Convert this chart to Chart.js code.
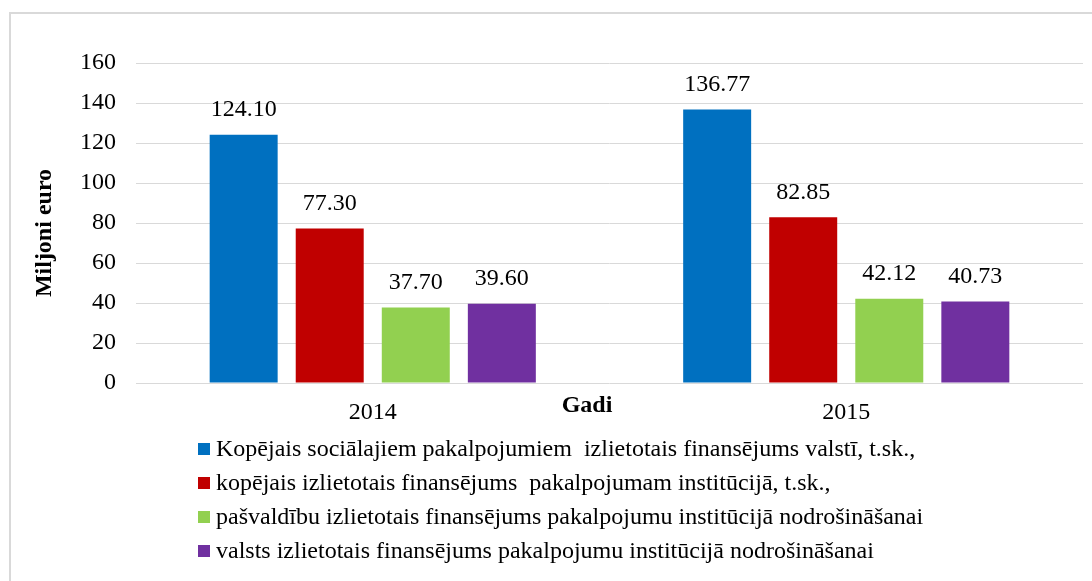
<!DOCTYPE html>
<html>
<head>
<meta charset="utf-8">
<script src="https://cdn.jsdelivr.net/npm/chart.js@4/dist/chart.umd.min.js"></script>
<style>
  body { margin: 0; background: #fff; }
  #wrap { width: 1092px; height: 581px; }
</style>
</head>
<body>
<div id="wrap"><canvas id="chart" width="1092" height="581"></canvas></div>
<script>
// dati
const years = ['2014', '2015'];
const seriesNames = [
  'Kopējais sociālajiem pakalpojumiem  izlietotais finansējums valstī, t.sk.,',
  'kopējais izlietotais finansējums  pakalpojumam institūcijā, t.sk.,',
  'pašvaldību izlietotais finansējums pakalpojumu institūcijā nodrošināšanai',
  'valsts izlietotais finansējums pakalpojumu institūcijā nodrošināšanai'
];
const totalCountry = [124.10, 136.77];
const totalInstitution = [77.30, 82.85];
const municipal = [37.70, 42.12];
const state = [39.60, 40.73];
const colors = ['#0070C0', '#C00000', '#92D050', '#7030A0'];
const yTicks = [0, 20, 40, 60, 80, 100, 120, 140, 160];

const FONT = "'Liberation Serif', 'Times New Roman', serif";

// frame, titles, value labels, legend
const decor = {
  id: 'decor',
  beforeDraw(chart) {
    const ctx = chart.ctx;
    ctx.save();
    ctx.strokeStyle = '#d9d9d9';
    ctx.lineWidth = 2;
    ctx.beginPath();
    ctx.moveTo(10, chart.height);
    ctx.lineTo(10, 13);
    ctx.lineTo(chart.width, 13);
    ctx.stroke();
    ctx.restore();
  },
  afterDraw(chart) {
    const ctx = chart.ctx;
    const area = chart.chartArea;
    ctx.save();
    ctx.fillStyle = '#000';

    // valori virs stabiņiem
    ctx.font = '24px ' + FONT;
    ctx.textAlign = 'center';
    ctx.textBaseline = 'middle';
    chart.data.datasets.forEach((ds, i) => {
      chart.getDatasetMeta(i).data.forEach((bar, j) => {
        ctx.fillText(ds.data[j].toFixed(2), bar.x, bar.y - 25);
      });
    });

    // ass nosaukumi
    ctx.font = 'bold 24px ' + FONT;
    ctx.fillText('Gadi', area.left + 451, area.bottom + 23);
    ctx.save();
    ctx.translate(45, area.top + 170);
    ctx.rotate(-Math.PI / 2);
    ctx.fillText('Miljoni euro', 0, 0);
    ctx.restore();

    // leģenda
    ctx.font = '24px ' + FONT;
    ctx.textAlign = 'left';
    const lx = area.left + 62;
    let ly = area.bottom + 66;
    chart.data.datasets.forEach(ds => {
      ctx.fillStyle = ds.backgroundColor;
      ctx.fillRect(lx, ly - 6, 12, 12);
      ctx.fillStyle = '#000';
      ctx.fillText(ds.label, lx + 18, ly + 1);
      ly += 34;
    });
    ctx.restore();
  }
};

const seriesData = [totalCountry, totalInstitution, municipal, state];

new Chart(document.getElementById('chart').getContext('2d'), {
  type: 'bar',
  data: {
    labels: years,
    datasets: seriesData.map((d, i) => ({
      label: seriesNames[i],
      data: d,
      backgroundColor: colors[i],
      borderWidth: 0,
      categoryPercentage: 0.727,
      barPercentage: 0.79
    }))
  },
  options: {
    responsive: false,
    animation: false,
    layout: { padding: { left: 0, right: 9, top: 63, bottom: 158 } },
    plugins: { legend: { display: false }, tooltip: { enabled: false } },
    scales: {
      x: {
        grid: { display: false, drawTicks: false },
        border: { display: false },
        ticks: { color: '#000', font: { family: FONT, size: 24 }, padding: 15 },
        afterFit: s => { s.height = 40; }
      },
      y: {
        min: 0,
        max: 160,
        afterBuildTicks: s => { s.ticks = yTicks.map(v => ({ value: v })); },
        grid: { color: '#d9d9d9', lineWidth: 1, drawTicks: false },
        border: { display: false },
        ticks: { color: '#000', font: { family: FONT, size: 24 }, padding: 20 },
        afterFit: s => { s.width = 136; }
      }
    }
  },
  plugins: [decor]
});
</script>
</body>
</html>
